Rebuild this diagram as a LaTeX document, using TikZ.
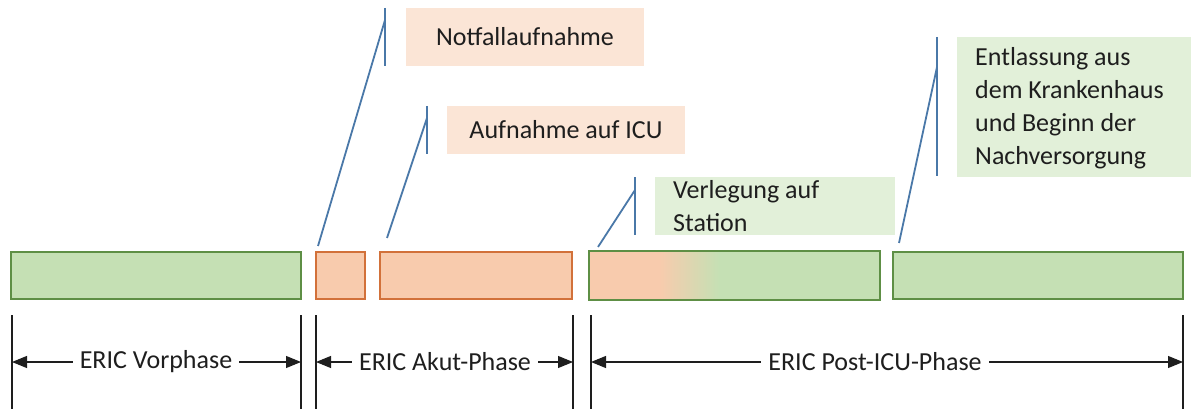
\documentclass[tikz,border=0pt]{standalone}
\usepackage{fontspec}
\setmainfont{Carlito}
\usetikzlibrary{arrows.meta}
\definecolor{barGreen}{HTML}{C5E0B4}
\definecolor{barGreenEdge}{HTML}{5E8F45}
\definecolor{barOrange}{HTML}{F8CBAD}
\definecolor{barOrangeEdge}{HTML}{D2713A}
\definecolor{noteOrange}{HTML}{FBE5D6}
\definecolor{noteGreen}{HTML}{E2F0D9}
\definecolor{leader}{HTML}{4A78A8}
\definecolor{ink}{HTML}{1E1E1E}
\tikzset{
  phasebar/.style={draw, line width=1.8pt, minimum height=47pt, inner sep=0pt},
  greenbar/.style={phasebar, fill=barGreen, draw=barGreenEdge},
  orangebar/.style={phasebar, fill=barOrange, draw=barOrangeEdge},
  note/.style={inner sep=0pt, font=\fontsize{26}{33}\selectfont, text=ink},
  accent/.style={draw=leader, line width=1.8pt},
  dimline/.style={draw=ink, line width=1.1pt},
  span/.style={dimline, {Triangle[length=15pt,width=12pt]}-{Triangle[length=15pt,width=12pt]}},
  spanlabel/.style={fill=white, inner sep=7pt, font=\fontsize{26}{33}\selectfont, text=ink}
}
\begin{document}
\begin{tikzpicture}[x=1pt,y=-1pt]
\useasboundingbox (0,0) rectangle (1191,409);

% phase bars
\node[greenbar,  minimum width=290pt] (b1) at (156,275.5) {};
\node[orangebar, minimum width=49pt]  (b2) at (340.5,275.5) {};
\node[orangebar, minimum width=192pt] (b3) at (476,275.5) {};
\node[phasebar, draw=none, minimum width=289pt] (b4) at (734.5,275.5) {};
\node[greenbar,  minimum width=290pt] (b5) at (1038,275.5) {};
% mixed bar: orange fading into green
\fill[barGreen] (b4.north west) rectangle (b4.south east);
\fill[barOrange] (b4.north west) rectangle ([xshift=70pt]b4.south west);
\shade[left color=barOrange, right color=barGreen]
  ([xshift=70pt]b4.north west) rectangle ([xshift=130pt]b4.south west);
\draw[barGreenEdge, line width=1.8pt] (b4.north west) rectangle (b4.south east);

% event notes
\node[note, fill=noteOrange, minimum width=238pt, minimum height=58pt] (n1) at (525,37) {Notfallaufnahme};
\node[note, fill=noteOrange, minimum width=238pt, minimum height=48pt] (n2) at (566,130) {Aufnahme auf ICU};
\node[note, fill=noteGreen, minimum width=240pt, minimum height=58pt] (n3) at (775,206) {};
\node[note, anchor=west, align=left] (t3) at (673,206) {Verlegung auf\\Station};
\node[note, fill=noteGreen, minimum width=234pt, minimum height=140pt] (n4) at (1074,107) {};
\node[note, anchor=west, align=left] (t4) at (975,108) {Entlassung aus\\dem Krankenhaus\\und Beginn der\\Nachversorgung};

% callout accent bars and leaders
\coordinate (a1t) at (385,8);   \coordinate (a1b) at (385,66);  \coordinate (a1j) at (385,20);  \coordinate (a1e) at (318,246);
\coordinate (a2t) at (427,106); \coordinate (a2b) at (427,154); \coordinate (a2j) at (427,118); \coordinate (a2e) at (387,238);
\coordinate (a3t) at (635,177); \coordinate (a3b) at (635,235); \coordinate (a3j) at (635,190); \coordinate (a3e) at (598,247);
\coordinate (a4t) at (937,37);  \coordinate (a4b) at (937,176); \coordinate (a4j) at (937,67);  \coordinate (a4e) at (899,243);
\foreach \i in {1,2,3,4} {
  \draw[accent] (a\i t) -- (a\i b);
  \draw[accent] (a\i j) -- (a\i e);
}

% phase extents
\foreach \n/\x in {0/12,1/301,2/316,3/573,4/591,5/1183} {
  \coordinate (d\n t) at (\x,315);
  \coordinate (d\n b) at (\x,409);
  \coordinate (d\n m) at (\x,362);
  \draw[dimline] (d\n t) -- (d\n b);
}
\draw[span] (d0m) -- (d1m);
\draw[span] (d2m) -- (d3m);
\draw[span] (d4m) -- (d5m);
\node[spanlabel] (p1) at (156,362) {ERIC Vorphase};
\node[spanlabel] (p2) at (445,362) {ERIC Akut-Phase};
\node[spanlabel] (p3) at (875,362) {ERIC Post-ICU-Phase};
\end{tikzpicture}
\end{document}
